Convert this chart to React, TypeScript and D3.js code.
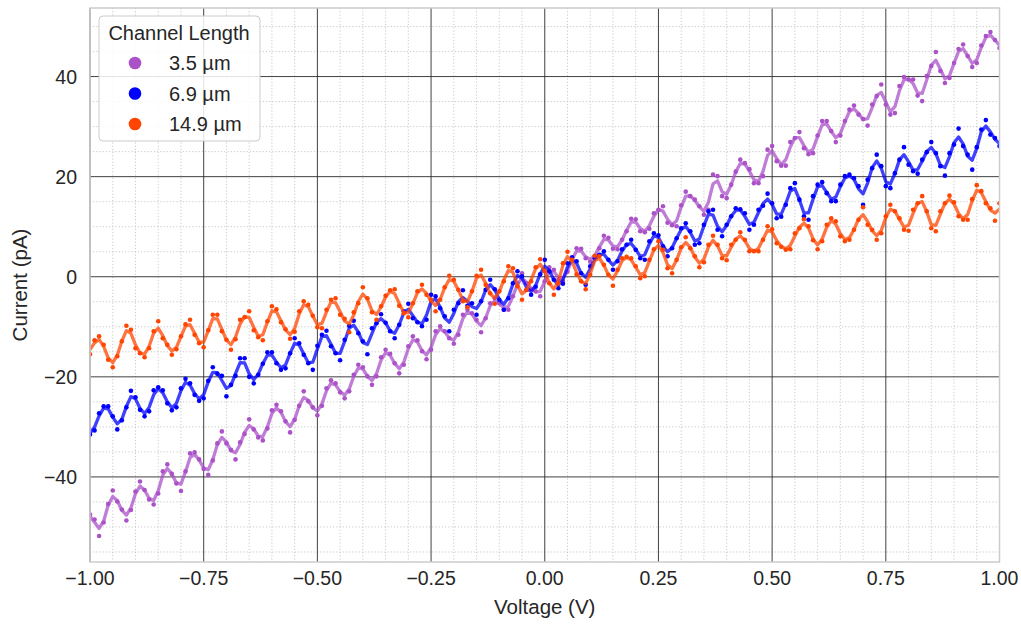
import React from "react";
import * as d3 from "d3";

// Voltage sweep: 201 samples from -1 V to 1 V (step 0.01 V)
const voltage: number[] = d3.range(201).map((i) => +(-1 + i * 0.01).toFixed(2));

const current35: number[] = [
  -47.5, -48.5, -51.8, -49.1, -45.4, -42.7, -44.9, -46.5, -48.7, -46.6,
  -42.9, -40.9, -42.6, -44.5, -45.5, -43.3, -38.9, -37.5, -39.4, -41.3,
  -42.8, -38.9, -35.3, -35.1, -36.5, -38.4, -39.6, -36.7, -33.3, -30.9,
  -33.3, -34.6, -36.5, -33.1, -31.4, -28.5, -30.5, -32.1, -32.7, -30.3,
  -26.7, -25.6, -26.9, -28.9, -31.1, -28.6, -25.8, -22.9, -24.9, -26.1,
  -27.7, -25.8, -22.3, -20.7, -21.3, -23.1, -24.3, -22.9, -19.6, -17.6,
  -18.1, -19.9, -21.6, -19.9, -16.1, -14.6, -15.4, -17.3, -19.3, -17.6,
  -13.9, -11.9, -12.7, -14.9, -16.5, -14.6, -10.9, -9.9, -10.9, -12.3,
  -13.4, -11.6, -7.6, -6.6, -7.3, -8.6, -11.1, -8.3, -5.3, -4.3,
  -5.3, -6.6, -6.6, -3.9, -1.3, 0.7, -1.3, -2.5, -2.9, -3.9,
  -0.9, 1.9, 1.4, -0.6, -0.9, 1.0, 3.5, 5.7, 5.6, 3.7,
  3.0, 4.1, 5.7, 8.2, 7.8, 5.6, 5.5, 7.4, 9.1, 11.6,
  11.5, 9.1, 8.9, 9.6, 12.7, 13.4, 14.1, 10.8, 10.3, 10.1,
  14.3, 17.0, 16.1, 15.4, 14.1, 12.4, 13.4, 20.4, 20.1, 16.1,
  15.7, 18.4, 21.0, 23.4, 22.7, 21.5, 18.7, 18.7, 20.1, 25.4,
  26.1, 23.1, 22.2, 22.2, 26.9, 27.7, 28.9, 25.7, 24.5, 24.7,
  28.2, 31.1, 31.1, 29.1, 26.9, 28.2, 31.1, 33.4, 34.2, 32.4,
  31.5, 30.2, 34.4, 36.1, 38.4, 34.4, 32.4, 32.7, 38.1, 39.9,
  39.4, 39.4, 36.2, 35.1, 40.1, 42.1, 44.9, 41.1, 38.7, 39.7,
  42.7, 45.5, 46.4, 44.1, 41.9, 42.7, 46.2, 48.1, 48.9, 47.3,
  45.7,
];

const current69: number[] = [
  -31.5, -30.7, -27.3, -25.9, -25.9, -27.9, -30.5, -28.7, -26.1, -22.8,
  -24.1, -26.6, -27.9, -26.9, -22.7, -22.1, -22.7, -25.3, -26.7, -26.1,
  -22.3, -20.4, -21.3, -23.6, -24.8, -24.3, -20.8, -18.1, -19.4, -19.8,
  -23.9, -21.6, -19.8, -16.3, -16.3, -20.0, -21.3, -19.6, -17.4, -15.1,
  -15.1, -17.3, -18.6, -18.3, -15.3, -12.3, -13.3, -15.6, -17.3, -18.6,
  -13.8, -11.6, -10.8, -13.9, -15.3, -16.7, -12.6, -9.8, -8.8, -11.3,
  -12.9, -15.5, -10.3, -9.3, -7.5, -9.2, -10.9, -12.3, -9.6, -6.9,
  -5.4, -8.3, -9.1, -9.9, -8.6, -3.6, -3.9, -6.3, -7.9, -10.9,
  -6.6, -5.3, -2.7, -5.8, -5.3, -7.6, -4.9, -2.6, -0.6, -2.5,
  -4.6, -6.6, -4.3, -1.3, 1.1, 0.1, -2.6, -3.6, -2.0, 0.5,
  3.4, 1.1, -0.6, -2.3, -1.4, 2.7, 3.9, 3.1, 0.7, -1.6,
  2.1, 3.7, 4.4, 5.1, 3.4, 1.4, 3.1, 5.5, 6.4, 7.4,
  5.4, 3.7, 3.4, 7.1, 8.7, 8.3, 6.1, 4.1, 5.7, 7.7,
  9.7, 10.7, 9.1, 6.4, 6.7, 10.4, 13.1, 13.4, 9.4, 8.1,
  10.4, 12.1, 13.7, 13.5, 12.7, 9.4, 10.4, 13.4, 14.2, 16.6,
  14.7, 11.7, 12.0, 14.4, 17.7, 18.7, 15.4, 12.1, 11.4, 16.1,
  18.4, 18.9, 16.7, 15.1, 15.1, 18.4, 20.1, 20.4, 19.7, 18.1,
  14.4, 19.4, 21.7, 24.4, 22.1, 18.1, 17.7, 20.7, 23.4, 25.9,
  22.4, 21.1, 20.6, 23.4, 24.9, 26.9, 24.7, 22.1, 20.2, 24.7,
  26.4, 29.6, 26.1, 24.4, 21.4, 25.9, 29.4, 31.3, 28.4, 27.7,
  26.1,
];

const current149: number[] = [
  -15.5, -12.7, -11.9, -13.6, -16.6, -18.1, -15.9, -12.9, -9.8, -10.6,
  -14.3, -15.3, -16.1, -14.3, -10.9, -8.9, -12.3, -13.6, -15.6, -14.5,
  -11.9, -9.5, -8.6, -11.6, -13.3, -14.1, -10.7, -7.6, -7.6, -10.9,
  -12.6, -14.6, -12.5, -8.6, -8.1, -6.9, -10.7, -12.1, -12.7, -8.9,
  -5.9, -6.5, -9.1, -10.5, -12.4, -11.0, -6.9, -4.9, -5.6, -7.8,
  -10.1, -10.3, -6.6, -4.6, -4.3, -7.6, -8.4, -11.1, -7.1, -5.3,
  -2.1, -4.3, -7.1, -8.6, -5.9, -3.8, -2.7, -2.5, -5.8, -7.3,
  -8.1, -5.3, -2.9, -1.6, -3.6, -4.6, -6.9, -4.6, -2.1, 0.2,
  -0.6, -2.6, -4.9, -6.1, -2.9, 0.2, 1.4, -1.6, -3.3, -5.4,
  -2.9, -0.9, 2.1, 1.7, -1.9, -4.6, -2.6, -0.9, 1.9, 3.5,
  1.1, -1.3, -3.6, -1.3, 2.7, 5.0, 3.4, 0.5, -0.9, -2.5,
  0.4, 4.2, 4.1, 2.4, 0.4, -1.8, 1.4, 3.7, 4.0, 3.7,
  2.1, -0.3, 0.1, 3.4, 5.5, 7.1, 5.4, 1.7, 0.7, 3.4,
  5.9, 7.9, 5.7, 4.1, 1.9, 2.9, 6.4, 8.2, 6.4, 3.7,
  3.3, 6.4, 7.4, 8.9, 7.4, 5.1, 5.1, 5.1, 7.4, 10.1,
  9.5, 6.7, 6.0, 5.4, 5.5, 8.7, 9.7, 11.5, 10.1, 7.3,
  5.5, 7.1, 10.4, 11.7, 11.1, 8.1, 7.1, 7.4, 9.4, 11.4,
  13.9, 10.4, 9.4, 7.4, 8.7, 12.1, 14.4, 13.1, 11.7, 9.4,
  9.2, 13.4, 14.7, 16.1, 13.1, 9.7, 9.1, 13.1, 14.7, 16.2,
  14.9, 12.1, 11.4, 11.4, 15.5, 18.3, 17.1, 14.7, 13.7, 11.2,
  14.7,
];

const seriesLabels: string[] = ["3.5 µm", "6.9 µm", "14.9 µm"];
const seriesColors: string[] = ["#AB52C9", "#0000FF", "#FF4500"];
const seriesValues: number[][] = [current35, current69, current149];

const xTicks: number[] = [-1, -0.75, -0.5, -0.25, 0, 0.25, 0.5, 0.75, 1];
const yTicks: number[] = [-40, -20, 0, 20, 40];

// smoothing kernel of the fitted trace
const kernel: number[] = [0.25, 0.5, 0.25];

const W = 1021;
const H = 624;
const plot = { left: 90, right: 999.5, top: 8, bottom: 562 };
const FONT = "'Liberation Sans', Arial, sans-serif";

function smooth(vals: number[]): number[] {
  const h = Math.floor(kernel.length / 2);
  return vals.map((_, i) => {
    let s = 0;
    let w = 0;
    kernel.forEach((k, j) => {
      const idx = i + j - h;
      if (idx >= 0 && idx < vals.length) {
        s += k * vals[idx];
        w += k;
      }
    });
    return s / w;
  });
}

const fmtX = (v: number) => d3.format(".2f")(v).replace("-", "\u2212");
const fmtY = (v: number) => String(v).replace("-", "\u2212");

export default function App() {
  const x = d3.scaleLinear().domain([-1, 1]).range([plot.left, plot.right]);
  const y = d3.scaleLinear().domain([-57.0, 53.7]).range([plot.bottom, plot.top]);

  const xMinor = d3.range(-1, 1.0001, 0.05).map((v) => +v.toFixed(2)).filter((v) => !xTicks.some((t) => Math.abs(t - v) < 1e-6));
  const yMinor = d3.range(-55, 55, 5).filter((v) => !yTicks.includes(v) && v > -57 && v < 53.7);

  const line = d3
    .line<number>()
    .x((_, i) => x(voltage[i]))
    .y((d) => y(d));

  return (
    <svg width={W} height={H} style={{ position: "absolute", left: 0, top: 0, background: "#fff" }} fontFamily={FONT}>
      <defs>
        <clipPath id="plotclip">
          <rect x={plot.left} y={plot.top} width={plot.right - plot.left} height={plot.bottom - plot.top} />
        </clipPath>
      </defs>
      <rect x={0} y={0} width={W} height={H} fill="#fff" />
      {/* minor grid */}
      <g stroke="#bdbdbd" strokeWidth={0.8} strokeDasharray="1.2,2">
        {xMinor.map((v) => (
          <line key={"xm" + v} x1={x(v)} x2={x(v)} y1={plot.top} y2={plot.bottom} />
        ))}
        {yMinor.map((v) => (
          <line key={"ym" + v} x1={plot.left} x2={plot.right} y1={y(v)} y2={y(v)} />
        ))}
      </g>
      {/* major grid */}
      <g stroke="#2b2b2b" strokeWidth={0.9}>
        {xTicks.map((v) => (
          <line key={"xM" + v} x1={x(v)} x2={x(v)} y1={plot.top} y2={plot.bottom} />
        ))}
        {yTicks.map((v) => (
          <line key={"yM" + v} x1={plot.left} x2={plot.right} y1={y(v)} y2={y(v)} />
        ))}
      </g>
      {/* series */}
      <g clipPath="url(#plotclip)">
        {seriesValues.map((vals, s) => (
          <g key={"s" + s}>
            <path d={line(smooth(vals)) || ""} fill="none" stroke={seriesColors[s]} strokeOpacity={0.75} strokeWidth={3.3} strokeLinejoin="round" />
            {vals.map((v, i) => (
              <circle key={i} cx={x(voltage[i])} cy={y(v)} r={2.3} fill={seriesColors[s]} />
            ))}
          </g>
        ))}
      </g>
      {/* frame */}
      <rect x={plot.left} y={plot.top} width={plot.right - plot.left} height={plot.bottom - plot.top} fill="none" stroke="#cccccc" strokeWidth={1.5} />
      {/* tick labels */}
      <g fontSize={19.5} fill="#262626">
        {xTicks.map((v) => (
          <text key={"xt" + v} x={x(v)} y={plot.bottom + 23} textAnchor="middle">
            {fmtX(v)}
          </text>
        ))}
        {yTicks.map((v) => (
          <text key={"yt" + v} x={plot.left - 13} y={y(v) + 7} textAnchor="end">
            {fmtY(v)}
          </text>
        ))}
      </g>
      <text x={(plot.left + plot.right) / 2} y={614} textAnchor="middle" fontSize={20.5} fill="#262626">
        Voltage (V)
      </text>
      <text transform={`translate(27, ${(plot.top + plot.bottom) / 2}) rotate(-90)`} textAnchor="middle" fontSize={20.5} fill="#262626">
        Current (pA)
      </text>
      {/* legend */}
      <g>
        <rect x={99} y={16} width={161} height={125} rx={4} fill="#fff" fillOpacity={0.85} stroke="#cccccc" strokeWidth={1} />
        <text x={179} y={40} textAnchor="middle" fontSize={20} fill="#262626">
          Channel Length
        </text>
        {seriesLabels.map((lab, s) => (
          <g key={"lg" + s}>
            <circle cx={135} cy={63 + s * 30.5} r={6.3} fill={seriesColors[s]} />
            <text x={169} y={70 + s * 30.5} fontSize={20} fill="#262626">
              {lab}
            </text>
          </g>
        ))}
      </g>
    </svg>
  );
}
